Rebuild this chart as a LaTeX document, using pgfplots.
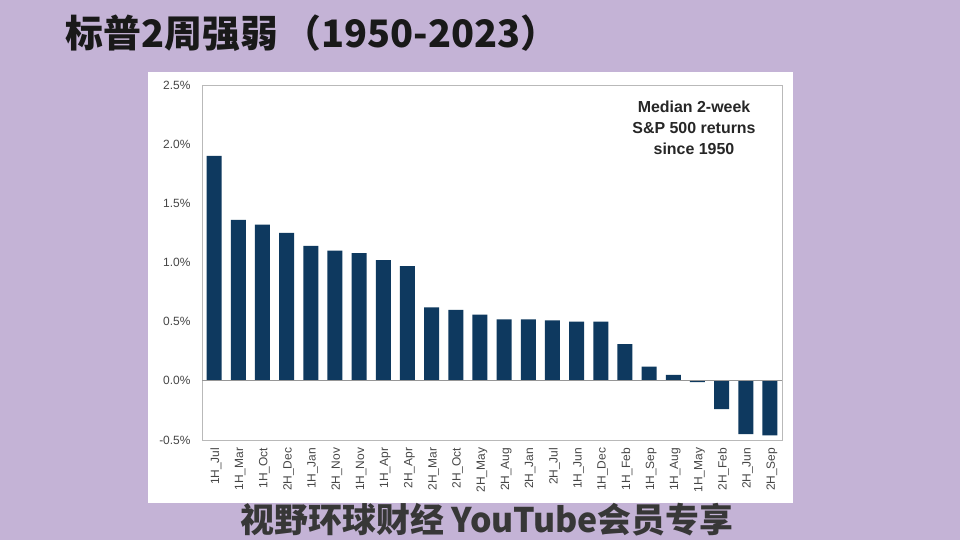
\documentclass[border=0pt]{standalone}
\usepackage{pgfplots}
\pgfplotsset{compat=1.18}
\usepackage{fontspec}
\setmainfont{Liberation Sans}
\newfontfamily\cjk{Noto Sans CJK SC}
\definecolor{bgpurple}{RGB}{196,179,214}
\definecolor{barblue}{RGB}{14,57,95}
\definecolor{framegray}{RGB}{185,185,185}
\definecolor{zerogray}{RGB}{150,150,150}
\definecolor{labgray}{RGB}{70,70,70}
\definecolor{capgray}{RGB}{55,55,55}
\begin{document}
\begin{tikzpicture}
\path[use as bounding box] (0,0) rectangle (960bp,540bp);
\fill[bgpurple] (0,0) rectangle (960bp,540bp);
\fill[white] (148bp,37bp) rectangle (793bp,468bp);
\begin{axis}[
  at={(202bp,100bp)}, anchor=south west,
  scale only axis, width=580bp, height=355bp,
  xmin=-0.5, xmax=23.5, ymin=-0.5, ymax=2.5,
  ytick={-0.5,0,0.5,1,1.5,2,2.5},
  yticklabels={-0.5\%,0.0\%,0.5\%,1.0\%,1.5\%,2.0\%,2.5\%},
  xtick={0,...,23},
  xticklabels={1H\_Jul,1H\_Mar,1H\_Oct,2H\_Dec,1H\_Jan,2H\_Nov,1H\_Nov,1H\_Apr,2H\_Apr,2H\_Mar,2H\_Oct,2H\_May,2H\_Aug,2H\_Jan,2H\_Jul,1H\_Jun,1H\_Dec,1H\_Feb,1H\_Sep,1H\_Aug,1H\_May,2H\_Feb,2H\_Jun,2H\_Sep},
  tick style={draw=none},
  axis line style={draw=framegray, line width=0.8pt},
  ticklabel style={font=\fontsize{12}{12}\selectfont, text=labgray},
  xticklabel style={rotate=90, anchor=east, yshift=-2bp},
  yticklabel style={xshift=-8bp},
  ybar, bar width=15bp,
]
\addplot[fill=barblue, draw=none] coordinates {
(0,1.90) (1,1.36) (2,1.32) (3,1.25) (4,1.14) (5,1.10) (6,1.08) (7,1.02)
(8,0.97) (9,0.62) (10,0.60) (11,0.56) (12,0.52) (13,0.52) (14,0.51) (15,0.50)
(16,0.50) (17,0.31) (18,0.12) (19,0.05) (20,-0.01) (21,-0.24) (22,-0.45) (23,-0.46)
};
\draw[zerogray, line width=0.8pt] (axis cs:-0.5,0) -- (axis cs:23.5,0);
\end{axis}
\node[align=center, font=\fontsize{16}{21}\selectfont\bfseries, text=black!85] at (694bp,412bp) {Median 2-week\\S\&P 500 returns\\since 1950};
\node[anchor=west, font=\cjk\bfseries\fontsize{38}{38}\selectfont, text=black!90] at (62bp,507bp) {标普2周强弱\hspace{6bp}（1950-2023）};
\node[font=\cjk\bfseries\fontsize{34}{34}\selectfont, text=capgray] at (487bp,20bp) {视野环球财经 YouTube会员专享};
\end{tikzpicture}
\end{document}
